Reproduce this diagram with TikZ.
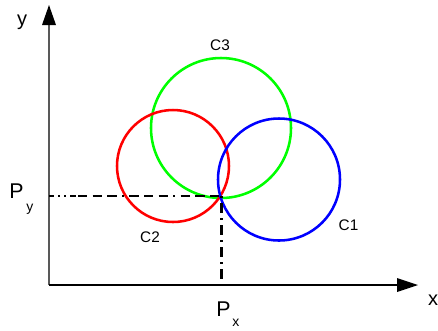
\documentclass[tikz,border=0pt]{standalone}
\usepackage{fontspec}
\setmainfont{Liberation Sans}
\begin{document}
\begin{tikzpicture}[x=0.75pt,y=-0.75pt,
  circ/.style={line width=1.9pt},
  axis/.style={line width=1.1pt},
  guide/.style={line width=1.8pt,black},
  lbl/.style={inner sep=0pt,anchor=base,font=\fontsize{11.5}{13}\selectfont},
  axlbl/.style={inner sep=0pt,anchor=base,font=\fontsize{15}{17}\selectfont},
  plbl/.style={inner sep=0pt,anchor=base west,font=\fontsize{16}{18}\selectfont},
  sublbl/.style={inner sep=0pt,anchor=base west,font=\fontsize{10.5}{12}\selectfont}]
\useasboundingbox (0,0) rectangle (438,330);
% axes
\coordinate (O) at (49,285);
\coordinate (ytip) at (49,5);
\coordinate (xtip) at (418,285);
\draw[axis,gray!70!black] (O) -- (49,25);
\fill[black] (ytip) -- (42,25) -- (56,25) -- cycle;
\draw[axis,black] (O) -- (397,285);
\fill[black] (xtip) -- (397,278) -- (397,292) -- cycle;
% circles
\draw[circ,green] (221,128) circle[radius=70];
\draw[circ,red] (173,166) circle[radius=56];
\draw[circ,blue] (279,179.5) circle[radius=61];
% guides
\coordinate (P) at (221.5,196);
\coordinate (Ya) at (49,196);
\coordinate (Yb) at (78,196);
\coordinate (Xa) at (221.5,285);
\draw[guide,dash pattern=on 4pt off 3pt on 1.5pt off 3pt on 1.5pt off 3pt] (Ya) -- (Yb);
\draw[guide,dash pattern=on 7pt off 4pt on 7pt off 4pt on 7pt off 4pt on 1.5pt off 4pt] (Yb) -- (P);
\draw[guide,dash pattern=on 1.5pt off 4pt on 7pt off 4pt] (P) -- (Xa);
% labels
\node[axlbl] (ly) at (22,25) {y};
\node[axlbl] (lx) at (433,305) {x};
\node[lbl] (c3) at (220,50) {C3};
\node[lbl] (c2) at (150,242) {C2};
\node[lbl] (c1) at (348.5,230) {C1};
\node[plbl] (py) at (9,198) {P};
\node[sublbl] (pys) at (26,211) {y};
\node[plbl] (px) at (216,316) {P};
\node[sublbl] (pxs) at (232,326) {x};
\end{tikzpicture}
\end{document}
